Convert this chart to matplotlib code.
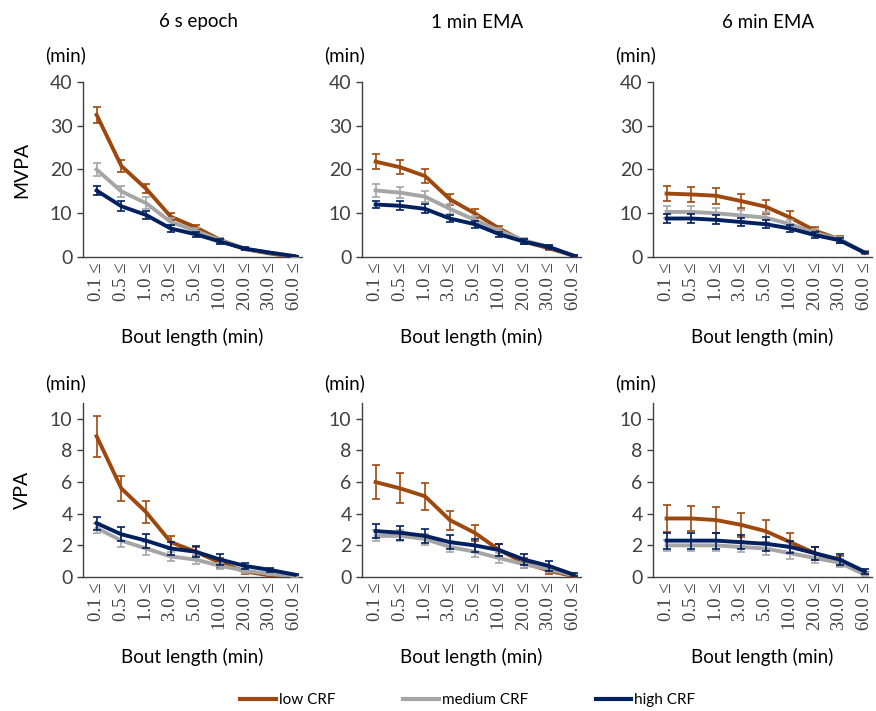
import matplotlib
matplotlib.use('Agg')
import matplotlib.pyplot as plt
import numpy as np

plt.rcParams['font.family'] = ['Lato', 'DejaVu Sans']

# Bout length categories
bouts = ['0.1 ≤', '0.5 ≤', '1.0 ≤', '3.0 ≤', '5.0 ≤', '10.0 ≤', '20.0 ≤', '30.0 ≤', '60.0 ≤']
titles = ['6 s epoch', '1 min EMA', '6 min EMA']
groups = ['low CRF', 'medium CRF', 'high CRF']
colors = ['#9E480E', '#A5A5A5', '#002060']

# MVPA (min) - mean values
mvpa_6s_low = [32.5, 20.8, 15.6, 9.2, 6.8, 3.9, 1.8, 0.8, 0.0]
mvpa_6s_med = [20.0, 15.0, 12.3, 8.0, 6.0, 3.8, 1.8, 1.0, 0.1]
mvpa_6s_high = [15.2, 11.6, 9.6, 6.5, 5.2, 3.5, 1.9, 1.0, 0.2]
mvpa_1m_low = [21.8, 20.5, 18.5, 13.2, 10.0, 6.5, 3.5, 2.0, 0.3]
mvpa_1m_med = [15.2, 14.7, 13.8, 11.0, 8.5, 6.0, 3.8, 2.3, 0.3]
mvpa_1m_high = [12.0, 11.7, 11.0, 8.8, 7.5, 5.2, 3.5, 2.3, 0.3]
mvpa_6m_low = [14.5, 14.3, 14.0, 12.8, 11.5, 9.0, 6.0, 4.0, 1.0]
mvpa_6m_med = [10.3, 10.3, 10.0, 9.5, 9.0, 7.5, 5.5, 4.0, 1.0]
mvpa_6m_high = [8.8, 8.8, 8.5, 8.0, 7.5, 6.5, 5.0, 3.8, 1.0]

# MVPA error bars
mvpa_6s_low_err = [1.8, 1.3, 1.0, 0.8, 0.6, 0.4, 0.2, 0.1, 0.05]
mvpa_6s_med_err = [1.5, 1.2, 1.3, 0.8, 0.6, 0.5, 0.3, 0.2, 0.05]
mvpa_6s_high_err = [1.0, 1.1, 1.0, 0.8, 0.6, 0.5, 0.3, 0.2, 0.05]
mvpa_1m_low_err = [1.8, 1.6, 1.5, 1.3, 1.0, 0.6, 0.5, 0.4, 0.1]
mvpa_1m_med_err = [1.4, 1.3, 1.3, 1.1, 0.9, 0.6, 0.5, 0.4, 0.1]
mvpa_1m_high_err = [0.9, 1.0, 1.0, 0.9, 0.8, 0.6, 0.5, 0.4, 0.1]
mvpa_6m_low_err = [1.7, 1.8, 1.8, 1.7, 1.6, 1.4, 0.9, 0.7, 0.3]
mvpa_6m_med_err = [1.3, 1.3, 1.3, 1.2, 1.2, 1.0, 0.8, 0.6, 0.2]
mvpa_6m_high_err = [1.0, 1.0, 1.0, 1.0, 0.9, 0.8, 0.7, 0.6, 0.2]

# VPA (min) - mean values
vpa_6s_low = [8.9, 5.6, 4.1, 2.2, 1.6, 0.9, 0.35, 0.1, 0.0]
vpa_6s_med = [3.1, 2.3, 1.8, 1.3, 1.1, 0.7, 0.4, 0.2, 0.05]
vpa_6s_high = [3.4, 2.7, 2.3, 1.8, 1.6, 1.1, 0.7, 0.45, 0.15]
vpa_1m_low = [6.0, 5.6, 5.1, 3.6, 2.8, 1.7, 0.9, 0.4, 0.05]
vpa_1m_med = [2.6, 2.6, 2.4, 1.9, 1.6, 1.2, 0.8, 0.5, 0.1]
vpa_1m_high = [2.9, 2.8, 2.6, 2.2, 2.0, 1.7, 1.1, 0.7, 0.15]
vpa_6m_low = [3.7, 3.7, 3.6, 3.3, 2.9, 2.2, 1.5, 1.0, 0.2]
vpa_6m_med = [2.0, 2.0, 2.0, 1.9, 1.8, 1.5, 1.2, 0.9, 0.15]
vpa_6m_high = [2.3, 2.3, 2.3, 2.2, 2.1, 1.9, 1.5, 1.1, 0.35]

# VPA error bars
vpa_6s_low_err = [1.3, 0.8, 0.7, 0.4, 0.3, 0.3, 0.15, 0.05, 0.02]
vpa_6s_med_err = [0.3, 0.4, 0.4, 0.3, 0.3, 0.2, 0.15, 0.1, 0.03]
vpa_6s_high_err = [0.4, 0.45, 0.45, 0.4, 0.35, 0.35, 0.2, 0.15, 0.05]
vpa_1m_low_err = [1.05, 0.95, 0.85, 0.6, 0.5, 0.4, 0.3, 0.2, 0.05]
vpa_1m_med_err = [0.35, 0.35, 0.35, 0.35, 0.35, 0.3, 0.25, 0.2, 0.05]
vpa_1m_high_err = [0.45, 0.45, 0.45, 0.45, 0.4, 0.4, 0.35, 0.3, 0.1]
vpa_6m_low_err = [0.85, 0.8, 0.8, 0.75, 0.7, 0.6, 0.4, 0.3, 0.1]
vpa_6m_med_err = [0.35, 0.35, 0.35, 0.35, 0.4, 0.35, 0.3, 0.25, 0.1]
vpa_6m_high_err = [0.5, 0.5, 0.5, 0.45, 0.45, 0.4, 0.4, 0.35, 0.15]

mvpa = [
    [(mvpa_6s_low, mvpa_6s_low_err), (mvpa_6s_med, mvpa_6s_med_err), (mvpa_6s_high, mvpa_6s_high_err)],
    [(mvpa_1m_low, mvpa_1m_low_err), (mvpa_1m_med, mvpa_1m_med_err), (mvpa_1m_high, mvpa_1m_high_err)],
    [(mvpa_6m_low, mvpa_6m_low_err), (mvpa_6m_med, mvpa_6m_med_err), (mvpa_6m_high, mvpa_6m_high_err)],
]
vpa = [
    [(vpa_6s_low, vpa_6s_low_err), (vpa_6s_med, vpa_6s_med_err), (vpa_6s_high, vpa_6s_high_err)],
    [(vpa_1m_low, vpa_1m_low_err), (vpa_1m_med, vpa_1m_med_err), (vpa_1m_high, vpa_1m_high_err)],
    [(vpa_6m_low, vpa_6m_low_err), (vpa_6m_med, vpa_6m_med_err), (vpa_6m_high, vpa_6m_high_err)],
]

W, H = 876, 711
fig = plt.figure(figsize=(W / 100, H / 100), dpi=100)

lefts = [83, 362, 653]
ax_w = 219
rows = [
    dict(top=82, bottom=257, data=mvpa, ylim=(0, 40), yticks=[0, 10, 20, 30, 40], label='MVPA', min_off=27, xlab_y=337),
    dict(top=403, bottom=577, data=vpa, ylim=(0, 11), yticks=[0, 2, 4, 6, 8, 10], label='VPA', min_off=20, xlab_y=657),
]

text_col = '#404040'
x = np.arange(len(bouts))

for r, row in enumerate(rows):
    for c in range(3):
        left = lefts[c]
        ax = fig.add_axes([left / W, 1 - row['bottom'] / H, ax_w / W, (row['bottom'] - row['top']) / H])
        for g in range(3):
            vals, errs = row['data'][c][g]
            ax.errorbar(x, vals, yerr=errs, color=colors[g], lw=2.8, elinewidth=1.2,
                        capsize=3, capthick=1.2, zorder=3 + g)
        ax.set_xlim(-0.55, 8.3)
        ax.set_ylim(*row['ylim'])
        ax.set_yticks(row['yticks'])
        ax.set_xticks(x)
        ax.set_xticklabels(bouts, rotation=90, fontsize=13.5, color=text_col,
                           family=['Liberation Serif', 'DejaVu Serif'])
        ax.tick_params(axis='x', length=0, pad=4)
        ax.tick_params(axis='y', labelsize=14, colors=text_col, length=4, width=1)
        for s in ['top', 'right']:
            ax.spines[s].set_visible(False)
        for s in ['left', 'bottom']:
            ax.spines[s].set_color('#404040')
            ax.spines[s].set_linewidth(1.0)
        ax.annotate('(min)', xy=(0, 1), xycoords='axes fraction', xytext=(2, row['min_off'] * 0.72),
                    textcoords='offset points', ha='right', va='center', fontsize=13.5, color='black')
        cx = (left + ax_w / 2) / W
        fig.text(cx, 1 - row['xlab_y'] / H, 'Bout length (min)', ha='center', va='center',
                 fontsize=13.5, color='black')
        if r == 0:
            fig.text(cx + 6 / W, 1 - 22 / H, titles[c], ha='center', va='center', fontsize=13.5, color='black')
    fig.text(22 / W, 1 - (row['top'] + row['bottom']) / 2 / H, row['label'], rotation=90,
             ha='center', va='center', fontsize=14, color='black')

# legend
handles = [plt.Line2D([], [], color=colors[g], lw=3) for g in range(3)]
fig.legend(handles, groups, loc='center', bbox_to_anchor=(468 / W, 1 - 700 / H), ncol=3, frameon=False,
           fontsize=11, handlelength=2.35, handletextpad=0.2, columnspacing=4.4)

fig.savefig('out.png', dpi=100)
